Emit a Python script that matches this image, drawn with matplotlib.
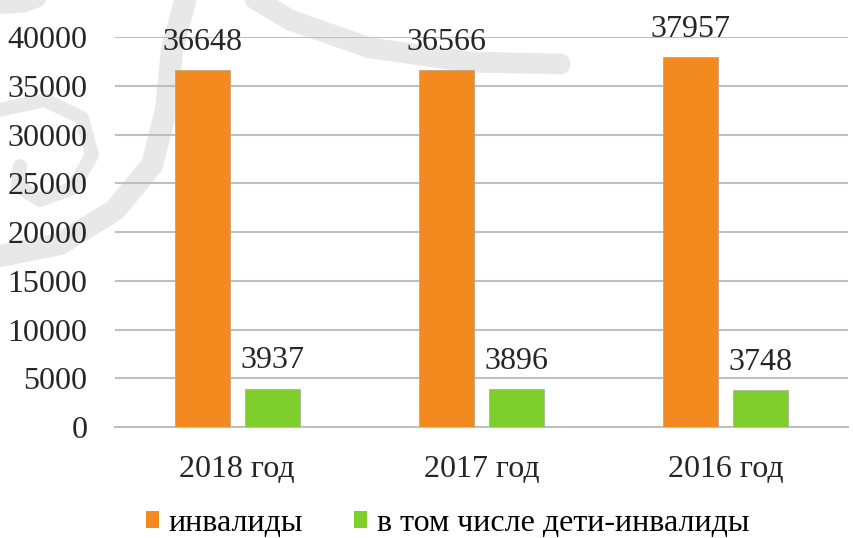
import matplotlib
matplotlib.use("Agg")
import matplotlib.pyplot as plt
import numpy as np
from matplotlib.patches import Patch

categories = ["2018 год", "2017 год", "2016 год"]
series_names = ["инвалиды", "в том числе дети-инвалиды"]
invalids = [36648, 36566, 37957]
children = [3937, 3896, 3748]
yticks = [0, 5000, 10000, 15000, 20000, 25000, 30000, 35000, 40000]

plt.rcParams['font.family'] = ['Liberation Serif', 'DejaVu Serif']
FS = 23
TXT = "#262626"

fig = plt.figure(figsize=(8.54, 5.38), dpi=100)

# decorative light-grey watermark in the background (pixel coordinates)
bg = fig.add_axes([0, 0, 1, 1], zorder=0)
bg.set_xlim(0, 854)
bg.set_ylim(538, 0)
bg.axis("off")
wm = "#E8E8E8"
strokes = [
    ([188, 172, 166, 152, 115, 60, 0, -20], [-10, 50, 110, 165, 210, 244, 256, 256], 16),
    ([-10, 45, 82, 92, 73, 40, 18, 20], [112, 100, 118, 155, 188, 200, 186, 166], 10),
    ([240, 290, 370, 470, 560], [-10, 20, 48, 62, 64], 15),
    ([-5, 25, 50], [6, 4, -6], 12),
]
for xs, ys, lw in strokes:
    bg.plot(xs, ys, color=wm, linewidth=lw, solid_capstyle="round", solid_joinstyle="round")

ax = fig.add_axes([0.1347, 0.2063, 0.8583, 0.7249], zorder=1)
ax.set_facecolor("none")

x = np.arange(len(categories))
w = 0.225
off = 0.143
orange = "#F28A1F"
green = "#7ECF2B"
b1 = ax.bar(x - off, invalids, w, color=orange, edgecolor="#C9A27A", linewidth=0.6, zorder=3)
b2 = ax.bar(x + off, children, w, color=green, edgecolor="#A8B89A", linewidth=0.6, zorder=3)

for bars, vals in ((b1, invalids), (b2, children)):
    for rect, v in zip(bars, vals):
        ax.annotate(str(v), (rect.get_x() + rect.get_width() / 2, v), xytext=(0, 14.5),
                    textcoords="offset points", ha="center", va="baseline",
                    fontsize=FS, color=TXT, zorder=4)

ax.set_xlim(-0.5, 2.5)
ax.set_ylim(0, 40000)
ax.set_yticks(yticks)
ax.set_yticklabels([str(t) for t in yticks], fontsize=FS, color=TXT)
ax.set_xticks(x)
ax.set_xticklabels(categories, fontsize=FS, color=TXT)
ax.tick_params(axis="both", length=0)
ax.tick_params(axis="y", pad=20)
ax.tick_params(axis="x", pad=20)
ax.grid(axis="y", color="#BFBFBF", linewidth=1.5, zorder=0)
for s in ["top", "right", "left"]:
    ax.spines[s].set_visible(False)
ax.spines["bottom"].set_color("#BFBFBF")
ax.spines["bottom"].set_linewidth(1.5)

handles = [Patch(facecolor=orange, edgecolor="none"), Patch(facecolor=green, edgecolor="none")]
fig.legend(handles, series_names, loc="center", bbox_to_anchor=(0.524, 0.027), ncol=2,
           frameon=False, fontsize=FS, handlelength=0.42, handleheight=0.42, handletextpad=0.3,
           columnspacing=1.6, borderpad=0)

fig.savefig("out.png", dpi=100)
